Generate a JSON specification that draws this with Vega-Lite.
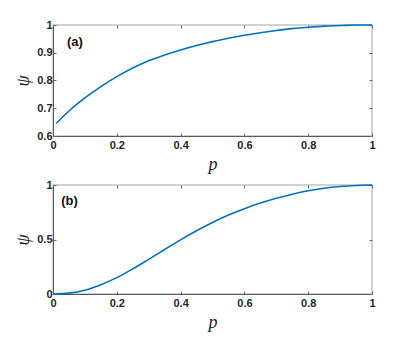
{
  "$schema": "https://vega.github.io/schema/vega-lite/v6.json",
  "padding": {"left": 13, "top": 18, "right": 5, "bottom": 5},
  "background": "white",
  "bounds": "flush",
  "spacing": 49,
  "datasets": {
    "a": [
      {"p": 0.01, "psi": 0.645}, {"p": 0.05, "psi": 0.690}, {"p": 0.1, "psi": 0.737},
      {"p": 0.15, "psi": 0.778}, {"p": 0.2, "psi": 0.814}, {"p": 0.25, "psi": 0.845},
      {"p": 0.3, "psi": 0.871}, {"p": 0.35, "psi": 0.892}, {"p": 0.4, "psi": 0.910},
      {"p": 0.45, "psi": 0.926}, {"p": 0.5, "psi": 0.940}, {"p": 0.55, "psi": 0.952},
      {"p": 0.6, "psi": 0.963}, {"p": 0.65, "psi": 0.972}, {"p": 0.7, "psi": 0.980},
      {"p": 0.75, "psi": 0.987}, {"p": 0.8, "psi": 0.992}, {"p": 0.85, "psi": 0.996},
      {"p": 0.9, "psi": 0.998}, {"p": 0.95, "psi": 1.0}, {"p": 1.0, "psi": 1.0}
    ],
    "b": [
      {"p": 0.0, "psi": 0.0}, {"p": 0.05, "psi": 0.008}, {"p": 0.1, "psi": 0.035},
      {"p": 0.15, "psi": 0.085}, {"p": 0.2, "psi": 0.150}, {"p": 0.25, "psi": 0.230},
      {"p": 0.3, "psi": 0.318}, {"p": 0.35, "psi": 0.408}, {"p": 0.4, "psi": 0.497},
      {"p": 0.45, "psi": 0.580}, {"p": 0.5, "psi": 0.656}, {"p": 0.55, "psi": 0.724},
      {"p": 0.6, "psi": 0.783}, {"p": 0.65, "psi": 0.834}, {"p": 0.7, "psi": 0.878},
      {"p": 0.75, "psi": 0.916}, {"p": 0.8, "psi": 0.947}, {"p": 0.85, "psi": 0.970},
      {"p": 0.9, "psi": 0.986}, {"p": 0.95, "psi": 0.996}, {"p": 1.0, "psi": 1.0}
    ],
    "la": [{"p": 0.044, "psi": 0.937, "label": "(a)"}],
    "lb": [{"p": 0.026, "psi": 0.855, "label": "(b)"}]
  },
  "config": {
    "view": {"stroke": "#c4c4c4", "strokeWidth": 1.5},
    "axis": {
      "domainColor": "#5a5a5a",
      "domainWidth": 1,
      "tickColor": "#6a6a6a",
      "tickSize": -3,
      "grid": false,
      "labelOverlap": false,
      "labelFont": "Liberation Sans",
      "labelFontWeight": "bold",
      "labelFontSize": 11,
      "labelColor": "#262626",
      "titleFont": "Liberation Serif",
      "titleFontStyle": "italic",
      "titleFontWeight": "normal",
      "titleFontSize": 18,
      "titleColor": "#262626",
      "format": "~g"
    }
  },
  "vconcat": [
    {
      "width": 319,
      "height": 111,
      "resolve": {"axis": {"x": "independent", "y": "independent"}},
      "layer": [
        {
          "data": {"name": "a"},
          "mark": {"type": "line", "color": "#0072BD", "strokeWidth": 1.6, "interpolate": "monotone"},
          "encoding": {
            "x": {"field": "p", "type": "quantitative", "scale": {"domain": [0, 1]},
                  "axis": {"title": "p", "values": [0, 0.2, 0.4, 0.6, 0.8, 1], "labelPadding": 6, "titlePadding": 5, "labelFlush": false}},
            "y": {"field": "psi", "type": "quantitative", "scale": {"domain": [0.6, 1], "zero": false},
                  "axis": {"title": "ψ", "values": [0.6, 0.7, 0.8, 0.9, 1], "labelPadding": 4, "titlePadding": 4}}
          }
        },
        {
          "data": {"name": "la"},
          "mark": {"type": "text", "align": "left", "baseline": "middle", "fontWeight": "bold", "fontSize": 13, "font": "Liberation Sans", "color": "#111"},
          "encoding": {
            "x": {"field": "p", "type": "quantitative",
                  "axis": {"orient": "top", "title": null, "labels": false, "domain": false, "values": [0, 0.2, 0.4, 0.6, 0.8, 1]}},
            "y": {"field": "psi", "type": "quantitative",
                  "axis": {"orient": "right", "title": null, "labels": false, "domain": false, "values": [0.6, 0.7, 0.8, 0.9, 1]}},
            "text": {"field": "label"}
          }
        }
      ]
    },
    {
      "width": 319,
      "height": 109,
      "resolve": {"axis": {"x": "independent", "y": "independent"}},
      "layer": [
        {
          "data": {"name": "b"},
          "mark": {"type": "line", "color": "#0072BD", "strokeWidth": 1.6, "interpolate": "monotone"},
          "encoding": {
            "x": {"field": "p", "type": "quantitative", "scale": {"domain": [0, 1]},
                  "axis": {"title": "p", "values": [0, 0.2, 0.4, 0.6, 0.8, 1], "labelPadding": 6, "titlePadding": 5, "labelFlush": false}},
            "y": {"field": "psi", "type": "quantitative", "scale": {"domain": [0, 1]},
                  "axis": {"title": "ψ", "values": [0, 0.5, 1], "labelPadding": 4, "titlePadding": 4}}
          }
        },
        {
          "data": {"name": "lb"},
          "mark": {"type": "text", "align": "left", "baseline": "middle", "fontWeight": "bold", "fontSize": 13, "font": "Liberation Sans", "color": "#111"},
          "encoding": {
            "x": {"field": "p", "type": "quantitative",
                  "axis": {"orient": "top", "title": null, "labels": false, "domain": false, "values": [0, 0.2, 0.4, 0.6, 0.8, 1]}},
            "y": {"field": "psi", "type": "quantitative",
                  "axis": {"orient": "right", "title": null, "labels": false, "domain": false, "values": [0, 0.5, 1]}},
            "text": {"field": "label"}
          }
        }
      ]
    }
  ]
}
